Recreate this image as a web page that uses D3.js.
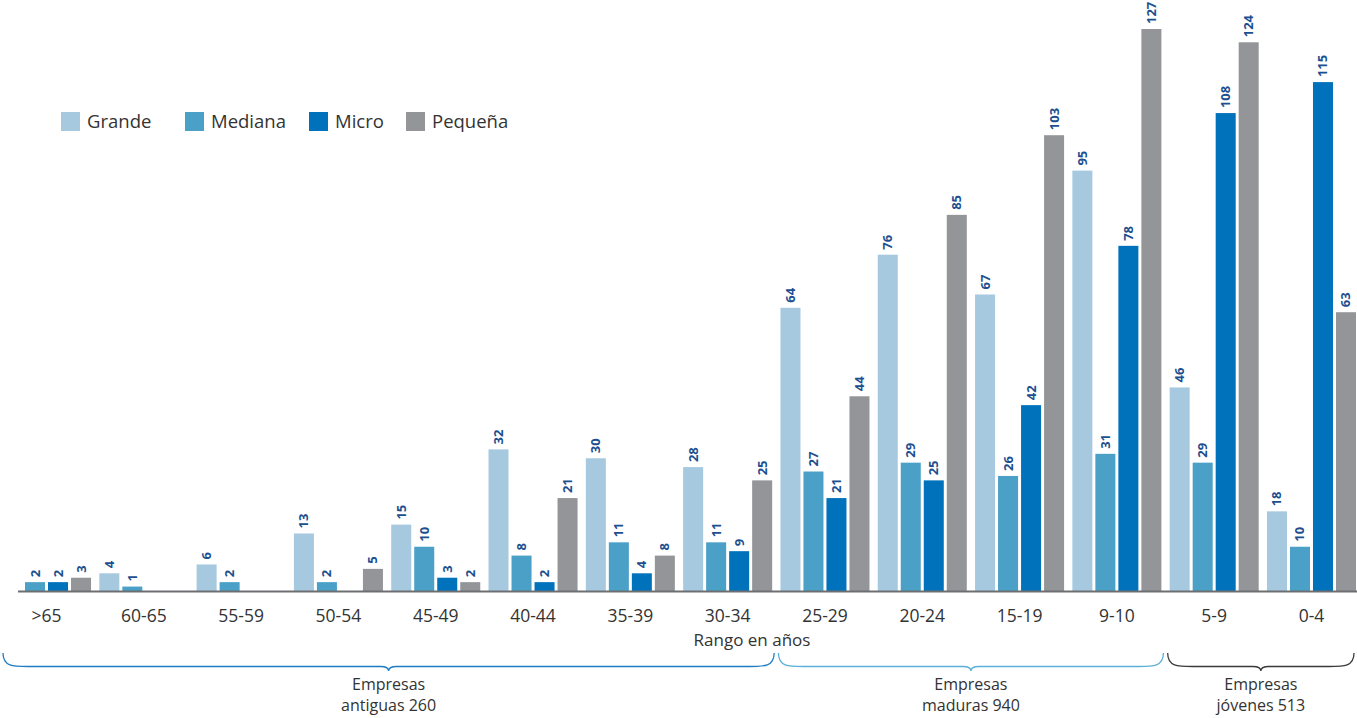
<!DOCTYPE html>
<html>
<head>
<meta charset="utf-8">
<script src="https://cdn.jsdelivr.net/npm/d3@7"></script>
<style>
  body { margin: 0; background: #fff; }
  svg { display: block; font-family: "Open Sans", "Noto Sans", sans-serif; }
</style>
</head>
<body>
<script>
const categories = [">65", "60-65", "55-59", "50-54", "45-49", "40-44", "35-39", "30-34",
  "25-29", "20-24", "15-19", "9-10", "5-9", "0-4"];
const seriesNames = ["Grande", "Mediana", "Micro", "Pequeña"];
const grande  = [null, 4, 6, 13, 15, 32, 30, 28, 64, 76, 67, 95, 46, 18];
const mediana = [2, 1, 2, 2, 10, 8, 11, 11, 27, 29, 26, 31, 29, 10];
const micro   = [2, null, null, null, 3, 2, 4, 9, 21, 25, 42, 78, 108, 115];
const pequena = [3, null, null, 5, 2, 21, 8, 25, 44, 85, 103, 127, 124, 63];
const groups = [
  {label: ["Empresas", "antiguas 260"], from: ">65", to: "30-34", color: "#1f7cc2"},
  {label: ["Empresas", "maduras 940"], from: "25-29", to: "9-10", color: "#5ab0d8"},
  {label: ["Empresas", "jóvenes 513"], from: "5-9", to: "0-4", color: "#3a3a3a"}
];

const colors = ["#a6c9e0", "#4aa0c6", "#0072bc", "#939598"];
const series = [grande, mediana, micro, pequena];

const width = 1357, height = 718;
const baseY = 591;

const svg = d3.select("body").append("svg")
  .attr("width", width).attr("height", height);

const x0 = d3.scaleBand()
  .domain(categories)
  .range([2, 1356])
  .paddingInner(0.085)
  .paddingOuter(0);

const x1 = d3.scaleBand()
  .domain(seriesNames)
  .range([0, x0.bandwidth()])
  .paddingInner(0.13);

const y = d3.scaleLinear().domain([0, 127]).range([baseY, 29]);

const rows = [];
categories.forEach((c, i) => {
  seriesNames.forEach((s, j) => {
    const v = series[j][i];
    if (v != null) rows.push({cat: c, ser: s, v: v, color: colors[j]});
  });
});

const g = svg.append("g");

g.selectAll("rect.bar")
  .data(rows)
  .enter().append("rect")
  .attr("class", "bar")
  .attr("x", d => x0(d.cat) + x1(d.ser))
  .attr("y", d => y(d.v))
  .attr("width", x1.bandwidth())
  .attr("height", d => baseY - y(d.v))
  .attr("fill", d => d.color);

g.selectAll("text.val")
  .data(rows)
  .enter().append("text")
  .attr("class", "val")
  .attr("transform", d => `translate(${x0(d.cat) + x1(d.ser) + x1.bandwidth() / 2 + 4.5},${y(d.v) - 5}) rotate(-90)`)
  .attr("fill", "#1c4f8f")
  .attr("font-size", 13)
  .attr("font-weight", "bold")
  .text(d => d.v);

// baseline
svg.append("line")
  .attr("x1", 18).attr("x2", width)
  .attr("y1", baseY + 0.5).attr("y2", baseY + 0.5)
  .attr("stroke", "#6d6e71").attr("stroke-width", 2);

// category labels
svg.selectAll("text.cat")
  .data(categories)
  .enter().append("text")
  .attr("class", "cat")
  .attr("x", d => x0(d) + x0.bandwidth() / 2)
  .attr("y", 622)
  .attr("text-anchor", "middle")
  .attr("font-size", 17.5)
  .attr("fill", "#333")
  .text(d => d);

svg.append("text")
  .attr("x", 752).attr("y", 646)
  .attr("text-anchor", "middle")
  .attr("font-size", 17)
  .attr("fill", "#333")
  .text("Rango en años");

// braces
function brace(xa, xb, yTop, h) {
  const m = (xa + xb) / 2;
  const r = h * 0.75;
  return `M${xa},${yTop} C${xa},${yTop + r} ${xa + 10},${yTop + r} ${xa + 25},${yTop + r}`
    + ` L${m - 8},${yTop + r} C${m - 3},${yTop + r} ${m},${yTop + r + 1} ${m},${yTop + h}`
    + ` C${m},${yTop + r + 1} ${m + 3},${yTop + r} ${m + 8},${yTop + r}`
    + ` L${xb - 25},${yTop + r} C${xb - 10},${yTop + r} ${xb},${yTop + r} ${xb},${yTop}`;
}

groups.forEach(gr => {
  const xa = gr.from === ">65" ? 3 : x0(gr.from) - 2;
  const xb = gr.to === "0-4" ? 1354 : x0(gr.to) + x0.bandwidth() + 2;
  const m = (xa + xb) / 2;
  svg.append("path")
    .attr("d", brace(xa, xb, 653, 18))
    .attr("fill", "none")
    .attr("stroke", gr.color)
    .attr("stroke-width", 1.3);
  gr.label.forEach((t, k) => {
    svg.append("text")
      .attr("x", m).attr("y", 690 + k * 21)
      .attr("text-anchor", "middle")
      .attr("font-size", 16)
      .attr("fill", "#333")
      .text(t);
  });
});

// legend
const legendX = [61, 185, 309, 406];
const legend = svg.selectAll("g.leg")
  .data(seriesNames)
  .enter().append("g")
  .attr("class", "leg")
  .attr("transform", (d, i) => `translate(${legendX[i]},112)`);
legend.append("rect")
  .attr("width", 19).attr("height", 19)
  .attr("fill", (d, i) => colors[i]);
legend.append("text")
  .attr("x", 26).attr("y", 16)
  .attr("font-size", 18.5)
  .attr("fill", "#333")
  .text(d => d);
</script>
</body>
</html>
